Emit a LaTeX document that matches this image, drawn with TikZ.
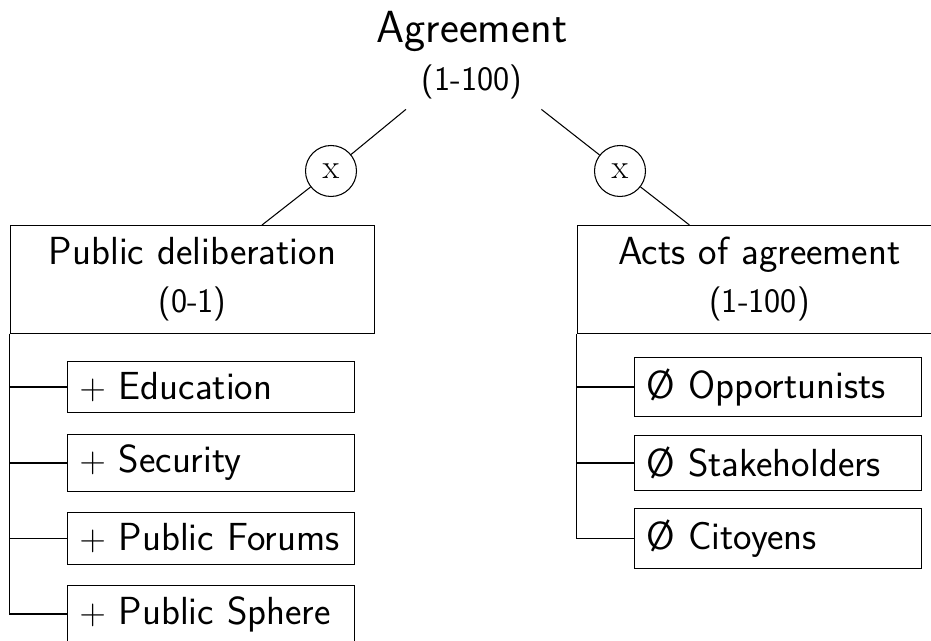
\documentclass[tikz,border=0pt]{standalone}
\usepackage{tikz}

\newcommand{\rootsize}{\fontsize{25.6}{27.3}\selectfont}
\newcommand{\boxsize}{\fontsize{22.3}{27.3}\selectfont}
\newcommand{\rangesize}{\fontsize{19.5}{27.3}\selectfont}

\tikzset{
  root/.style={font=\sffamily\rootsize, align=center, text width=6cm, inner xsep=0.24cm, inner ysep=0.2cm},
  op/.style={draw, circle, minimum size=1.02cm, inner sep=0pt, font=\rmfamily\rangesize},
  factor/.style={draw, font=\sffamily\boxsize, align=center, text width=6.82cm, inner sep=0.24cm},
  leaf/.style={draw, anchor=west, font=\sffamily\boxsize, align=left, text width=5.26cm, inner xsep=0.24cm, inner ysep=0.22cm}
}

\begin{document}
\begin{tikzpicture}[x=0.02cm, y=-0.02cm, line width=0.6pt]
    \clip (0,0) rectangle (931,641);
    \node[root] (agr) at (472,55) {Agreement\\{\rangesize (1-100)}};
    \node[op] (xl) at (331,171) {x};
    \node[op] (xr) at (620,171) {x};
    \node[factor] (pd) at (192.5,279.5) {Public deliberation\\{\rangesize (0-1)}};
    \node[factor] (aa) at (759.5,279.5) {Acts of agreement\\{\rangesize (1-100)}};
    \draw (agr) -- (xl);
    \draw (agr) -- (xr);
    \draw (xl) -- (pd);
    \draw (xr) -- (aa);
    % left branch
    \node[leaf] (edu) at (67,387) {$+$ Education};
    \node[leaf] (sec) at (67,463) {$+$ Security};
    \node[leaf] (forum) at (67,538.5) {$+$ Public Forums};
    \node[leaf] (sphere) at (67,614) {$+$ Public Sphere};
    \draw (pd.south west) |- (edu.west);
    \draw (pd.south west) |- (sec.west);
    \draw (pd.south west) |- (forum.west);
    \draw (pd.south west) |- (sphere.west);
    % right branch
    \node[leaf] (opp) at (634,387) {Ø Opportunists};
    \node[leaf] (stake) at (634,463) {Ø Stakeholders};
    \node[leaf] (cit) at (634,538.5) {Ø Citoyens};
    \draw (aa.south west) |- (opp.west);
    \draw (aa.south west) |- (stake.west);
    \draw (aa.south west) |- (cit.west);
\end{tikzpicture}
\end{document}
